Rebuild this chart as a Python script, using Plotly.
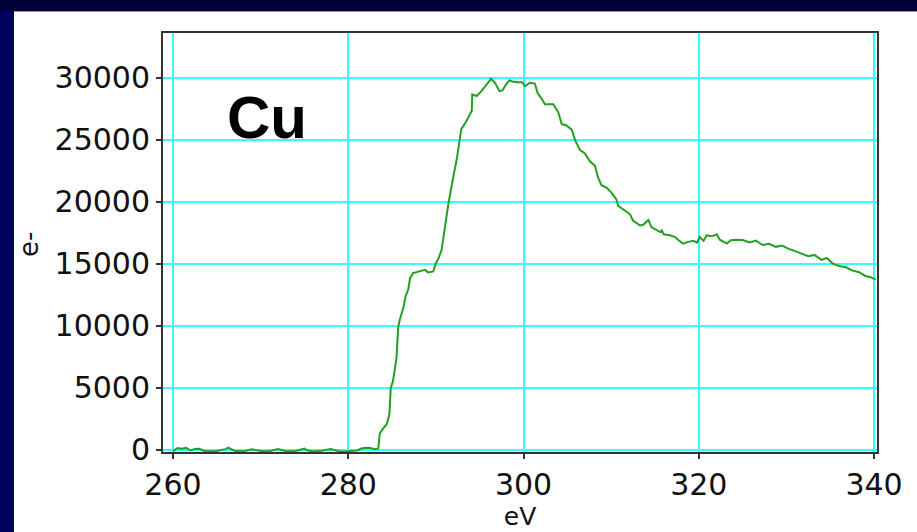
import plotly.graph_objects as go

# Energy (eV) and counts (e-)
energy_ev = [
    260.0, 260.5, 261.0, 261.5, 262.0, 262.5, 263.0, 263.5, 264.0, 265.0,
    266.0, 266.3, 267.0, 268.0, 269.0, 270.0, 271.0, 272.0, 273.0, 274.0,
    275.0, 275.3, 276.0, 277.0, 278.0, 279.0, 280.0, 281.0, 281.5, 282.0,
    282.5, 283.0, 283.43, 283.6, 283.8, 284.4, 284.7, 284.85, 285.1, 285.3,
    285.5, 285.7, 285.9, 286.3, 286.55, 286.85, 287.05, 287.4, 288.0, 288.75,
    289.1, 289.7, 290.0, 290.3, 290.65, 290.85, 291.4, 292.0, 292.4, 292.9,
    293.3, 293.8, 294.1, 294.15, 294.65, 295.2, 295.8, 296.3, 296.75, 297.25,
    297.6, 298.0, 298.4, 298.85, 299.3, 299.8, 300.2, 300.7, 301.3, 301.6,
    302.1, 302.45, 303.4, 303.97, 304.35, 304.9, 305.5, 305.9, 306.45, 307.0,
    307.6, 308.15, 308.5, 308.9, 309.5, 310.05, 310.6, 310.8, 311.6, 312.15,
    312.5, 313.3, 313.7, 314.25, 314.6, 315.2, 315.6, 315.8, 316.0, 316.7,
    317.3, 317.7, 318.2, 318.8, 319.4, 319.8, 320.1, 320.55, 320.9, 321.5,
    322.05, 322.4, 323.2, 323.65, 324.3, 325.0, 325.8, 326.5, 327.3, 328.0,
    328.8, 329.5, 330.2, 331.0, 331.8, 332.5, 333.2, 334.0, 334.6, 335.3,
    336.0, 336.8, 337.5, 338.3, 339.0, 339.6, 340.2,
]
counts = [
    -150, 120, 60, 140, -80, 50, 60, -100, -150, -120,
    30, 160, -100, -150, 20, -120, -140, 40, -150, -120,
    80, -60, -150, -100, 40, -150, -130, -80, 80, 150,
    130, 20, 80, 1270, 1530, 2060, 2860, 4970, 5500, 6430,
    7360, 9870, 10530, 11450, 12380, 12910, 13830, 14230, 14370, 14500,
    14290, 14370, 15020, 15420, 16090, 17140, 19700, 22040, 23490, 25870,
    26270, 26930, 27330, 28650, 28520, 28910, 29440, 29900, 29580, 28910,
    28970, 29440, 29790, 29660, 29630, 29630, 29310, 29580, 29520, 28780,
    28250, 27860, 27860, 27200, 26270, 26140, 25800, 24940, 24150, 23890,
    23230, 22900, 21950, 21320, 21110, 20710, 20180, 19660, 19260, 18990,
    18470, 18070, 18150, 18520, 17940, 17670, 17540, 17670, 17360, 17280,
    17140, 16880, 16610, 16750, 16830, 16690, 17140, 16830, 17280, 17200,
    17360, 16930, 16610, 16880, 16930, 16900, 16700, 16850, 16500, 16600,
    16350, 16450, 16200, 16000, 15800, 15600, 15700, 15300, 15450, 15000,
    14800, 14700, 14450, 14300, 14000, 13900, 13700,
]

x_ticks = [260, 280, 300, 320, 340]
y_ticks = [0, 5000, 10000, 15000, 20000, 25000, 30000]

fig = go.Figure()
fig.add_trace(go.Scatter(
    x=energy_ev, y=counts, mode="lines",
    line=dict(color="#22a022", width=2),
    showlegend=False, hoverinfo="skip",
))

# plot region in pixels: left 163, right 877, top 33, bottom 458
W, H = 917, 532
L, R, T, B = 163, 40, 33, 74
pw, ph = W - L - R, H - T - B

def px_to_paper_x(px):
    return (px - L) / pw

def px_to_paper_y(py):
    return (H - B - py) / ph

shapes = [
    # white panel
    dict(type="rect", xref="paper", yref="paper", layer="below",
         x0=px_to_paper_x(14), x1=px_to_paper_x(930),
         y0=px_to_paper_y(545), y1=px_to_paper_y(11),
         fillcolor="white", line=dict(width=0)),
    # darker top band
    dict(type="rect", xref="paper", yref="paper", layer="below",
         x0=px_to_paper_x(-5), x1=px_to_paper_x(930),
         y0=px_to_paper_y(11), y1=px_to_paper_y(-5),
         fillcolor="#000038", line=dict(width=0)),
]

axis_font = dict(family="DejaVu Sans", size=30, color="#111111")

fig.update_layout(
    width=W, height=H,
    margin=dict(l=L, r=R, t=T, b=B),
    paper_bgcolor="#00005e",
    plot_bgcolor="white",
    shapes=shapes,
    xaxis=dict(
        range=[258.86, 340.34], tickvals=x_ticks,
        ticktext=[str(v) for v in x_ticks],
        showgrid=True, gridcolor="#33ffff", gridwidth=2,
        showline=True, linecolor="#333333", linewidth=2, mirror=True,
        ticks="outside", ticklen=5, tickcolor="#333333", tickwidth=2,
        tickfont=axis_font, zeroline=False,
        title=dict(text="eV", font=dict(family="DejaVu Sans", size=25, color="#111111"),
                   standoff=0),
    ),
    yaxis=dict(
        range=[-200, 33600], tickvals=y_ticks,
        ticktext=[str(v) for v in y_ticks],
        showgrid=True, gridcolor="#33ffff", gridwidth=2,
        showline=True, linecolor="#333333", linewidth=2, mirror=True,
        ticks="outside", ticklen=5, tickcolor="#333333", tickwidth=2,
        tickfont=axis_font, zeroline=False,
    ),
    annotations=[
        dict(text="<b>Cu</b>", xref="paper", yref="paper",
             x=px_to_paper_x(225), y=px_to_paper_y(119),
             xanchor="left", yanchor="middle", showarrow=False,
             font=dict(family="Liberation Sans", size=60, color="black")),
        dict(text="e-", xref="paper", yref="paper",
             x=px_to_paper_x(29), y=px_to_paper_y(248),
             xanchor="center", yanchor="middle", showarrow=False,
             textangle=-90,
             font=dict(family="DejaVu Sans", size=26, color="#111111")),
    ],
)

fig.write_html(
    "out.html",
    config={"displayModeBar": False},
    post_script="document.body.style.margin='0';document.body.style.overflow='hidden';",
)
